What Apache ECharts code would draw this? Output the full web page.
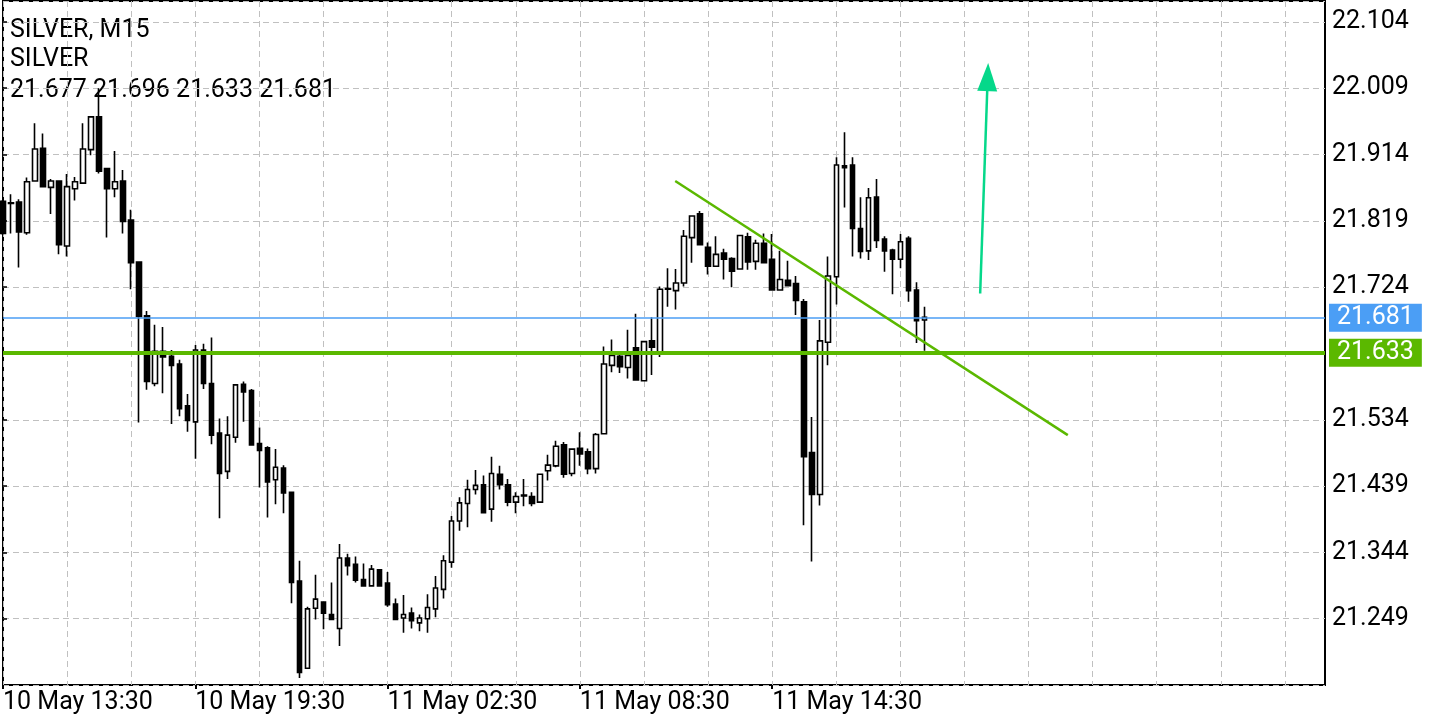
<!DOCTYPE html>
<html>
<head>
<meta charset="utf-8">
<script src="https://cdn.jsdelivr.net/npm/echarts@6/dist/echarts.min.js"></script>
<style>
html,body{margin:0;padding:0;background:#ffffff;}
#chart{width:1440px;height:720px;}
</style>
</head>
<body>
<div id="chart"></div>
<script>
// ---------- DATA ----------
const symbolTitle = 'SILVER, M15';
const symbolName = 'SILVER';
const startDay = 10, startMonth = 'May', startHour = 13, startMinute = 30;
const breakStart = '00:00', breakEnd = '01:00';   // daily trading pause (no candles)
const totalSlots = 166;                            // candles + empty space on the right
const labelEvery = 24, gridEvery = 8, lastLabelIndex = 96;

const opens = [21.847,21.845,21.846,21.802,21.876,21.923,21.867,21.876,21.783,21.865,
21.873,21.921,21.968,21.894,21.865,21.876,21.820,21.760,21.683,21.586,
21.632,21.625,21.614,21.554,21.531,21.634,21.586,21.515,21.460,21.509,
21.585,21.576,21.500,21.494,21.448,21.465,21.430,21.303,21.178,21.264,
21.273,21.255,21.235,21.336,21.327,21.305,21.296,21.319,21.300,21.270,
21.250,21.257,21.243,21.249,21.263,21.291,21.330,21.389,21.414,21.434,
21.441,21.406,21.456,21.441,21.416,21.426,21.424,21.416,21.461,21.468,
21.498,21.457,21.493,21.488,21.464,21.514,21.612,21.625,21.609,21.637,
21.590,21.647,21.629,21.721,21.719,21.730,21.795,21.829,21.781,21.754,
21.773,21.765,21.750,21.796,21.761,21.787,21.764,21.720,21.734,21.729,
21.703,21.487,21.427,21.645,21.739,21.898,21.899,21.808,21.776,21.853,
21.793,21.777,21.764,21.794,21.720,21.677];
const highs = [21.849,21.857,21.850,21.881,21.959,21.944,21.879,21.876,21.886,21.882,
21.959,21.968,22.009,21.894,21.919,21.892,21.835,21.760,21.690,21.670,
21.667,21.634,21.620,21.571,21.641,21.643,21.652,21.536,21.539,21.584,
21.589,21.578,21.523,21.496,21.492,21.469,21.430,21.332,21.266,21.312,
21.273,21.301,21.356,21.342,21.338,21.328,21.326,21.320,21.316,21.278,
21.283,21.265,21.255,21.284,21.310,21.340,21.396,21.423,21.448,21.462,
21.454,21.481,21.468,21.449,21.430,21.449,21.430,21.457,21.484,21.504,
21.502,21.492,21.516,21.493,21.515,21.639,21.649,21.627,21.663,21.686,
21.646,21.681,21.725,21.751,21.750,21.806,21.826,21.833,21.788,21.797,
21.779,21.767,21.798,21.802,21.792,21.801,21.800,21.776,21.762,21.740,
21.707,21.538,21.677,21.768,21.910,21.946,21.910,21.853,21.866,21.879,
21.797,21.779,21.800,21.797,21.731,21.696];
const lows = [21.799,21.801,21.752,21.799,21.875,21.868,21.829,21.771,21.768,21.848,
21.872,21.913,21.887,21.795,21.853,21.801,21.721,21.530,21.577,21.582,
21.572,21.528,21.539,21.517,21.478,21.578,21.499,21.393,21.449,21.501,
21.531,21.498,21.437,21.394,21.413,21.400,21.271,21.164,21.178,21.248,
21.234,21.248,21.210,21.311,21.301,21.296,21.296,21.295,21.266,21.248,
21.229,21.235,21.231,21.229,21.251,21.278,21.322,21.375,21.380,21.427,
21.401,21.388,21.434,21.410,21.400,21.410,21.410,21.416,21.447,21.466,
21.451,21.453,21.468,21.456,21.457,21.514,21.602,21.601,21.593,21.591,
21.590,21.598,21.624,21.696,21.692,21.725,21.759,21.785,21.742,21.754,
21.735,21.724,21.750,21.749,21.749,21.759,21.720,21.720,21.726,21.684,
21.383,21.331,21.411,21.612,21.699,21.838,21.768,21.765,21.763,21.780,
21.746,21.714,21.751,21.703,21.644,21.633];
const closes = [21.801,21.844,21.803,21.875,21.922,21.868,21.876,21.785,21.868,21.875,
21.922,21.968,21.890,21.865,21.875,21.818,21.759,21.682,21.589,21.632,
21.624,21.612,21.550,21.533,21.634,21.586,21.512,21.457,21.512,21.584,
21.574,21.498,21.490,21.445,21.466,21.429,21.301,21.172,21.263,21.277,
21.257,21.248,21.336,21.325,21.304,21.296,21.320,21.296,21.269,21.248,
21.255,21.246,21.250,21.265,21.293,21.332,21.389,21.415,21.434,21.440,
21.401,21.457,21.441,21.416,21.424,21.425,21.414,21.456,21.469,21.496,
21.456,21.492,21.485,21.464,21.513,21.614,21.626,21.610,21.626,21.591,
21.646,21.638,21.721,21.722,21.730,21.797,21.826,21.785,21.754,21.771,
21.764,21.747,21.798,21.760,21.787,21.759,21.720,21.735,21.726,21.705,
21.481,21.427,21.647,21.740,21.899,21.895,21.808,21.775,21.852,21.791,
21.776,21.764,21.789,21.719,21.676,21.681];

const bidPrice = 21.681;          // current price line
const supportLevel = 21.633;      // thick horizontal level
const trendStart = [83.9, 21.876];  // [candle index, price]
const trendEnd = [132.9, 21.512];
const arrowStart = [121.96, 21.715];
const arrowEnd = [122.9, 22.025];

const yMin = 21.154, yMax = 22.134, yStep = 0.095;

// ---------- BUILD ----------
function pad(n){return (n<10?'0':'')+n;}
const categories = [];
(function(){
  let d = startDay, h = startHour, m = startMinute;
  const bs = parseInt(breakStart), be = parseInt(breakEnd);
  for (let i = 0; i < totalSlots; i++) {
    categories.push(d + ' ' + startMonth + ' ' + pad(h) + ':' + pad(m));
    m += 15;
    if (m >= 60) { m -= 60; h += 1; }
    if (h >= 24) { h -= 24; d += 1; }
    if (h >= bs && h < be) { h = be; m = 0; }
  }
})();

const candleData = opens.map((o, i) => [o, closes[i], lows[i], highs[i]]);

const FONT = 'Roboto';
const FS = 25;
const chart = echarts.init(document.getElementById('chart'), null, {renderer: 'canvas'});

const lastIdx = opens.length - 1;
const headerText = [opens[lastIdx], highs[lastIdx], lows[lastIdx], closes[lastIdx]].map(v => v.toFixed(3)).join(' ');

chart.setOption({
  animation: false,
  backgroundColor: '#ffffff',
  grid: {left: 2, right: 115, top: 1, bottom: 35, show: true, borderColor: '#000000', borderWidth: 2, backgroundColor: 'transparent'},
  xAxis: [{
    type: 'category',
    data: categories,
    boundaryGap: false,
    axisLine: {show: false},
    axisTick: {show: true, length: 4, lineStyle: {color: '#000', width: 2},
      interval: (i) => i % labelEvery === 0 && i <= lastLabelIndex},
    axisLabel: {show: true, color: '#000', fontFamily: FONT, fontSize: FS, align: 'left', margin: 5,
      interval: (i) => i % labelEvery === 0 && i <= lastLabelIndex},
    splitLine: {show: true, interval: (i) => i % gridEvery === 0,
      lineStyle: {color: '#c0c0c0', width: 1, type: [6, 4]}}
  }, {
    type: 'value', min: 0, max: totalSlots - 1, show: false, position: 'top'
  }],
  yAxis: [{
    type: 'value',
    position: 'right',
    min: yMin, max: yMax, interval: yStep,
    axisLine: {show: false},
    axisTick: {show: true, length: 4, lineStyle: {color: '#000', width: 1.5}},
    axisLabel: {color: '#000', fontFamily: FONT, fontSize: FS, margin: 7, padding: [4, 0, 0, 0],
      showMinLabel: false, showMaxLabel: false,
      formatter: function (v) {
        const n = (v - yMin) / yStep;
        const r = Math.round(n);
        if (Math.abs(n - r) > 1e-4 || r === 0 || Math.abs(v - supportLevel) < 0.01) return '';
        return v.toFixed(3);
      }},
    splitLine: {show: true, lineStyle: {color: '#c0c0c0', width: 1, type: [6, 4]}}
  }],
  series: [{
    type: 'candlestick',
    data: candleData,
    barWidth: 5,
    clip: true,
    itemStyle: {color: '#ffffff', color0: '#000000', borderColor: '#000000', borderColor0: '#000000', borderWidth: 1.6}
  }, {
    type: 'line',
    xAxisIndex: 1,
    z: 5,
    data: [trendStart, trendEnd],
    symbol: 'none',
    lineStyle: {color: '#5bb800', width: 2.5},
    markLine: {
      silent: true,
      symbol: ['none', 'triangle'],
      symbolSize: [20, 28],
      data: [[{coord: arrowStart}, {coord: arrowEnd}]],
      lineStyle: {color: '#05d88a', width: 2.5, type: 'solid'},
      itemStyle: {color: '#05d88a'},
      label: {show: false}
    }
  }, {
    type: 'line',
    z: 6,
    data: [],
    markLine: {
      silent: true,
      symbol: ['none', 'none'],
      data: [
        {yAxis: bidPrice, lineStyle: {color: '#4b9ef5', width: 1.6, type: 'solid'},
          label: {show: true, position: 'end', distance: 4, formatter: bidPrice.toFixed(3),
            color: '#fff', backgroundColor: '#4b9ef5', fontFamily: FONT, fontSize: FS, lineHeight: 24, padding: [3, 8, 1, 8]}},
        {yAxis: supportLevel, lineStyle: {color: '#5bb800', width: 4, type: 'solid'},
          label: {show: true, position: 'end', distance: 4, formatter: supportLevel.toFixed(3),
            color: '#fff', backgroundColor: '#5bb800', fontFamily: FONT, fontSize: FS, lineHeight: 24, padding: [3, 8, 1, 8]}}
      ]
    }
  }],
  graphic: [
    {type: 'text', left: 10, top: 18, style: {text: symbolTitle, fill: '#000', font: FS + 'px ' + FONT}},
    {type: 'text', left: 10, top: 47, style: {text: symbolName, fill: '#000', font: FS + 'px ' + FONT}},
    {type: 'text', left: 10, top: 78, style: {text: headerText, fill: '#000', font: FS + 'px ' + FONT}}
  ]
});
</script>
</body>
</html>
